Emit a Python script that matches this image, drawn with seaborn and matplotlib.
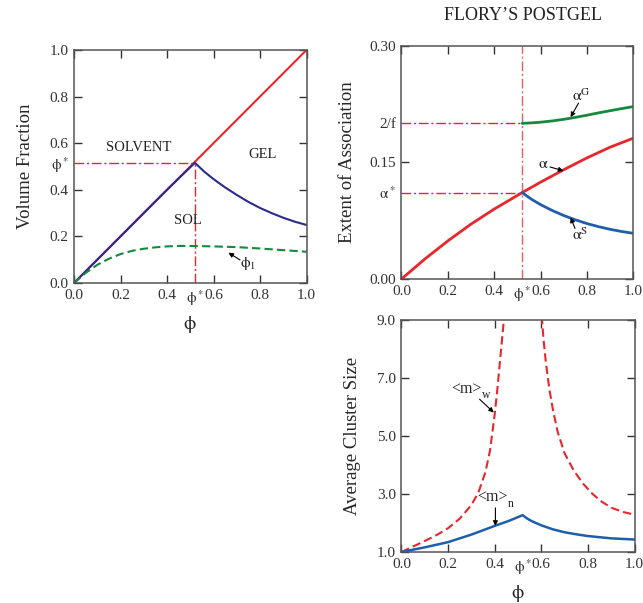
import seaborn as sns
import matplotlib
matplotlib.use('Agg')
import matplotlib.pyplot as plt
from matplotlib.ticker import FormatStrFormatter

# --- data ---
phi_star = 0.52
phi_star_vf = 0.516      # phi* on the volume-fraction axis
two_over_f = 0.20
alpha_star = 0.111

# volume fractions (left panel)
total_phi = [0.0, 1.0]
total_vf = [0.0, 1.0]
sol_phi = [0.0, 0.1, 0.2, 0.3, 0.4, 0.52, 0.56, 0.6, 0.65, 0.7, 0.75, 0.8, 0.85, 0.9, 0.95, 1.0]
sol_vf = [0.0, 0.1, 0.2, 0.3, 0.4, 0.516, 0.478, 0.446, 0.41, 0.378, 0.348, 0.322, 0.3, 0.28, 0.263, 0.249]
phi1_phi = [0.0, 0.05, 0.1, 0.15, 0.2, 0.25, 0.3, 0.35, 0.4, 0.45, 0.5, 0.6, 0.7, 0.8, 0.9, 1.0]
phi1_vf = [0.0, 0.043, 0.078, 0.104, 0.124, 0.138, 0.147, 0.153, 0.157, 0.159, 0.159, 0.157, 0.154, 0.148, 0.141, 0.134]

# extent of association (top right)
alpha_phi = [0.0, 0.1, 0.2, 0.3, 0.4, 0.52, 0.6, 0.7, 0.8, 0.9, 1.0]
alpha = [0.0, 0.0255, 0.049, 0.0706, 0.0899, 0.111, 0.1245, 0.1405, 0.1557, 0.1695, 0.181]
post_phi = [0.52, 0.56, 0.6, 0.65, 0.7, 0.75, 0.8, 0.85, 0.9, 0.95, 1.0]
alpha_g = [0.200, 0.2006, 0.2015, 0.2031, 0.2052, 0.2077, 0.2105, 0.2135, 0.2163, 0.2190, 0.2216]
alpha_s = [0.111, 0.1025, 0.0955, 0.0880, 0.0815, 0.0760, 0.0712, 0.0672, 0.0638, 0.0610, 0.0587]

# average cluster size (bottom right)
mw_left_phi = [0.0, 0.05, 0.1, 0.15, 0.2, 0.25, 0.3, 0.33, 0.36, 0.38, 0.4, 0.41, 0.42, 0.43, 0.44, 0.45]
mw_left = [1.0, 1.19, 1.38, 1.58, 1.82, 2.15, 2.62, 3.05, 3.75, 4.5, 5.75, 6.5, 7.35, 8.2, 9.05, 9.9]
mw_right_phi = [0.595, 0.603, 0.61, 0.62, 0.635, 0.65, 0.67, 0.7, 0.74, 0.78, 0.82, 0.86, 0.9, 0.95, 1.0]
mw_right = [10.0, 9.0, 8.3, 7.5, 6.6, 5.9, 5.15, 4.4, 3.8, 3.35, 3.0, 2.73, 2.53, 2.38, 2.29]
mn_phi = [0.0, 0.1, 0.2, 0.3, 0.4, 0.46, 0.52, 0.54, 0.56, 0.6, 0.65, 0.7, 0.75, 0.8, 0.9, 1.0]
mn = [1.0, 1.16, 1.34, 1.6, 1.9, 2.07, 2.27, 2.15, 2.06, 1.92, 1.78, 1.68, 1.61, 1.55, 1.47, 1.43]

RED = '#e8262b'
NAVY = '#2b2b8f'
BLUE = '#1f5eab'
GREEN = '#15893c'
GREY = '#555555'
TXT = '#222222'

sns.set_style('ticks')
plt.rcParams['font.family'] = ['Liberation Serif', 'DejaVu Serif']
plt.rcParams['mathtext.fontset'] = 'stix'

fig = plt.figure(figsize=(6.43, 6.03), dpi=100)
ax1 = fig.add_axes([0.1151, 0.5307, 0.3616, 0.3864])
ax2 = fig.add_axes([0.6244, 0.5373, 0.3608, 0.3872])
ax3 = fig.add_axes([0.6244, 0.0846, 0.3624, 0.3847])

PHI = r'$\mathrm{\phi}$'
PHI_STAR = r'$\mathrm{\phi^*}$'
dashdot = (0, (7, 2, 1.5, 2))
TICK_FS = 11


def style_axes(ax):
    for s in ax.spines.values():
        s.set_color(GREY)
        s.set_linewidth(1.1)
    ax.tick_params(which='major', direction='in', length=6, width=1, color='#333333',
                   top=True, right=True, labelsize=TICK_FS, labelcolor='#333333', pad=4)
    ax.tick_params(which='minor', length=0, labelsize=TICK_FS, labelcolor='#333333', pad=4)
    ax.set_xlim(0, 1)
    ax.set_xticks([0, 0.2, 0.4, 0.6, 0.8, 1.0])
    ax.xaxis.set_major_formatter(FormatStrFormatter('%.1f'))
    ax.set_xticks([phi_star], labels=[PHI_STAR], minor=True)


def arrow(ax, tail, tip):
    ax.annotate('', xy=tip, xytext=tail,
                arrowprops=dict(arrowstyle='-|>', lw=0.8, color='black',
                                mutation_scale=7, shrinkA=0, shrinkB=0))


def m_label(ax, x, y, sub):
    ax.text(x, y, '<m>', fontsize=11.5, ha='center', va='center', color=TXT)
    ax.annotate(sub, xy=(x, y), xytext=(11, -4.5), textcoords='offset points',
                fontsize=8.5, ha='left', va='center', color=TXT)


# ---- left panel: volume fraction ----
style_axes(ax1)
ax1.plot([0, phi_star], [phi_star_vf, phi_star_vf], color=RED, lw=1, ls=dashdot)
ax1.plot([phi_star, phi_star], [0, phi_star_vf], color=RED, lw=1, ls=dashdot)
sns.lineplot(x=total_phi, y=total_vf, ax=ax1, color=RED, lw=1.5)
sns.lineplot(x=sol_phi, y=sol_vf, ax=ax1, color=NAVY, lw=1.5)
sns.lineplot(x=phi1_phi, y=phi1_vf, ax=ax1, color=GREEN, lw=1.5, linestyle=(0, (4, 2)))
ax1.set_ylim(0, 1)
ax1.set_yticks([0, 0.2, 0.4, 0.6, 0.8, 1.0])
ax1.yaxis.set_major_formatter(FormatStrFormatter('%.1f'))
ax1.set_yticks([phi_star_vf], labels=[PHI_STAR], minor=True)
ax1.set_xlabel(PHI, fontsize=14)
ax1.xaxis.set_label_coords(0.5, -0.132)
ax1.set_ylabel('Volume Fraction', fontsize=13.5)
ax1.yaxis.set_label_coords(-0.172, 0.5)
ax1.text(0.277, 0.58, 'SOLVENT', fontsize=10.5, ha='center', va='center', color=TXT)
ax1.text(0.81, 0.55, 'GEL', fontsize=10.5, ha='center', va='center', color=TXT)
ax1.text(0.49, 0.27, 'SOL', fontsize=10.5, ha='center', va='center', color=TXT)
ax1.text(0.75, 0.085, r'$\mathrm{\phi_1}$', fontsize=11, ha='center', va='center', color=TXT)
arrow(ax1, (0.714, 0.099), (0.664, 0.13))

# ---- top right: extent of association ----
style_axes(ax2)
ax2.plot([phi_star, phi_star], [0, 0.30], color=RED, lw=1, ls=dashdot, alpha=0.75)
ax2.plot([0, phi_star], [two_over_f, two_over_f], color=RED, lw=1, ls=dashdot)
ax2.plot([0, phi_star], [alpha_star, alpha_star], color=RED, lw=1, ls=dashdot)
sns.lineplot(x=alpha_phi, y=alpha, ax=ax2, color=RED, lw=2)
sns.lineplot(x=post_phi, y=alpha_g, ax=ax2, color=GREEN, lw=2)
sns.lineplot(x=post_phi, y=alpha_s, ax=ax2, color=BLUE, lw=2)
ax2.set_ylim(0, 0.30)
ax2.set_yticks([0.0, 0.15, 0.30])
ax2.yaxis.set_major_formatter(FormatStrFormatter('%.2f'))
ax2.set_yticks([alpha_star, two_over_f], labels=[r'$\mathrm{\alpha^*}$', '2/f'], minor=True)
ax2.set_ylabel('Extent of Association', fontsize=13.5)
ax2.yaxis.set_label_coords(-0.197, 0.5)
fig.text(0.8126, 0.975, 'FLORY\u2019S POSTGEL', fontsize=13, ha='center', va='center', color=TXT)
ax2.text(0.777, 0.234, r'$\mathrm{\alpha^G}$', fontsize=11.5, ha='center', va='center')
arrow(ax2, (0.763, 0.226), (0.729, 0.208))
ax2.text(0.609, 0.148, r'$\mathrm{\alpha}$', fontsize=11.5, ha='center', va='center')
arrow(ax2, (0.64, 0.144), (0.698, 0.139))
ax2.text(0.77, 0.0557, r'$\mathrm{\alpha^S}$', fontsize=11.5, ha='center', va='center')
arrow(ax2, (0.748, 0.065), (0.729, 0.079))

# ---- bottom right: average cluster size ----
style_axes(ax3)
sns.lineplot(x=mw_left_phi, y=mw_left, ax=ax3, color=RED, lw=1.5, linestyle=(0, (4, 2)))
sns.lineplot(x=mw_right_phi, y=mw_right, ax=ax3, color=RED, lw=1.5, linestyle=(0, (4, 2)))
sns.lineplot(x=mn_phi, y=mn, ax=ax3, color=BLUE, lw=1.8)
ax3.set_ylim(1.0, 9.0)
ax3.set_yticks([1.0, 3.0, 5.0, 7.0, 9.0])
ax3.yaxis.set_major_formatter(FormatStrFormatter('%.1f'))
ax3.set_xlabel(PHI, fontsize=14)
ax3.xaxis.set_label_coords(0.5, -0.132)
ax3.set_ylabel('Average Cluster Size', fontsize=13.5)
ax3.yaxis.set_label_coords(-0.175, 0.5)
m_label(ax3, 0.28, 6.62, 'w')
arrow(ax3, (0.335, 6.27), (0.396, 5.81))
m_label(ax3, 0.39, 2.88, 'n')
arrow(ax3, (0.403, 2.52), (0.403, 1.9))

fig.savefig('out.png', dpi=100)
